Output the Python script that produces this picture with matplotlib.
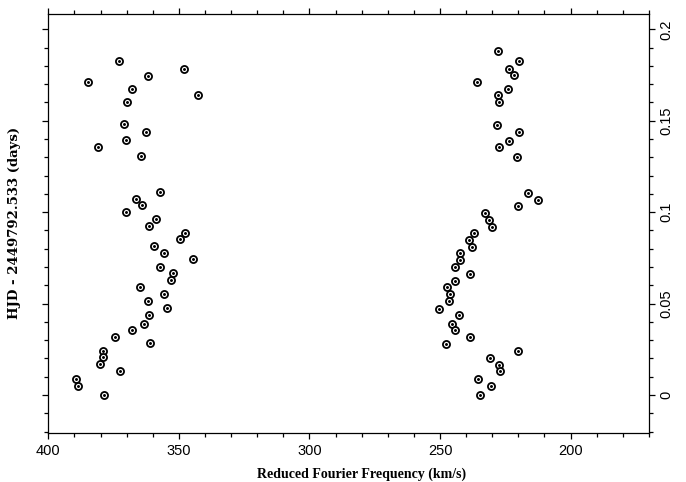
import numpy as np
import matplotlib
matplotlib.use('Agg')
import matplotlib.pyplot as plt
from matplotlib.ticker import MultipleLocator

# ---------------------------
# Data
# ---------------------------
# left branch (higher reduced Fourier frequency)
freq_left = [373.0, 348.0, 361.7, 384.9, 368.0, 342.6, 369.7, 371.0, 362.4, 370.1,
             380.9, 364.5, 357.4, 366.5, 364.3, 370.1, 358.6, 361.5, 347.5, 349.4,
             359.5, 355.8, 344.4, 357.1, 352.2, 353.0, 365.0, 355.8, 362.0, 354.5,
             361.4, 363.2, 367.9, 374.5, 361.1, 379.1, 379.1, 380.1, 372.4, 389.5,
             388.5, 378.5]
time_left = [0.1829, 0.1782, 0.1747, 0.1714, 0.1674, 0.1639, 0.1605, 0.1481, 0.1440, 0.1393,
             0.1357, 0.1307, 0.1109, 0.1072, 0.1038, 0.1001, 0.0961, 0.0926, 0.0888, 0.0855,
             0.0815, 0.0778, 0.0742, 0.0702, 0.0666, 0.0629, 0.0592, 0.0553, 0.0516, 0.0476,
             0.0439, 0.0390, 0.0356, 0.0319, 0.0283, 0.0242, 0.0206, 0.0170, 0.0133, 0.0089,
             0.0049, 0.0000]

# right branch (lower reduced Fourier frequency)
freq_right = [227.7, 219.9, 223.4, 221.7, 235.7, 224.1, 227.8, 227.3, 228.0, 219.6,
              223.6, 227.6, 220.4, 216.3, 212.5, 220.2, 232.6, 231.1, 230.1, 237.0,
              238.8, 237.9, 242.5, 242.5, 244.4, 238.6, 244.1, 247.5, 246.1, 246.4,
              250.3, 242.8, 245.6, 244.1, 238.4, 247.9, 220.0, 230.9, 227.5, 227.1,
              235.5, 230.6, 234.7]
time_right = [0.1882, 0.1827, 0.1783, 0.1749, 0.1712, 0.1674, 0.1639, 0.1603, 0.1479, 0.1439,
              0.1389, 0.1355, 0.1304, 0.1103, 0.1067, 0.1032, 0.0996, 0.0957, 0.0921, 0.0885,
              0.0850, 0.0811, 0.0775, 0.0737, 0.0699, 0.0662, 0.0625, 0.0589, 0.0551, 0.0513,
              0.0472, 0.0436, 0.0388, 0.0354, 0.0316, 0.0279, 0.0239, 0.0204, 0.0166, 0.0130,
              0.0086, 0.0048, 0.0000]

x_ticks = [400, 350, 300, 250, 200]
y_ticks = [0, 0.05, 0.1, 0.15, 0.2]

# ---------------------------
# Plot
# ---------------------------
fig = plt.figure(figsize=(6.86, 4.82), dpi=100)
ax = fig.add_axes([0.0704, 0.1023, 0.8756, 0.8687])

freqs = freq_left + freq_right
times = time_left + time_right
# open circle with a dot in the middle
ax.scatter(freqs, times, s=26, facecolors='white', edgecolors='black', linewidths=1.3, zorder=3)
ax.scatter(freqs, times, s=1.2, color='black', zorder=4)

ax.set_xlim(400, 170)
ax.set_ylim(-0.0206, 0.2084)

ax.set_xticks(x_ticks)
ax.set_yticks(y_ticks)
ax.set_yticklabels(['0', '0.05', '0.1', '0.15', '0.2'])
ax.xaxis.set_minor_locator(MultipleLocator(10))
ax.yaxis.set_minor_locator(MultipleLocator(0.01))

ax.tick_params(which='both', direction='out', top=True, bottom=True, left=True, right=True,
               labelleft=False, labelright=True, labelsize=10.5, width=0.9,
               labelfontfamily='Liberation Sans')
ax.tick_params(which='major', length=4.5)
ax.tick_params(which='minor', length=3)
ax.tick_params(axis='y', labelrotation=90, pad=3)
for lab in ax.get_yticklabels():
    lab.set_va('center')

for sp in ax.spines.values():
    sp.set_linewidth(0.9)

ax.set_xlabel('Reduced Fourier Frequency (km/s)', family='Liberation Serif',
              fontsize=10, fontweight='bold')
ax.xaxis.set_label_coords(0.522, -0.082)
ax.set_ylabel('HJD - 2449792.533 (days)', family='DejaVu Serif',
              fontsize=9.5, fontweight='bold', labelpad=15)

fig.savefig('out.png', dpi=100)
